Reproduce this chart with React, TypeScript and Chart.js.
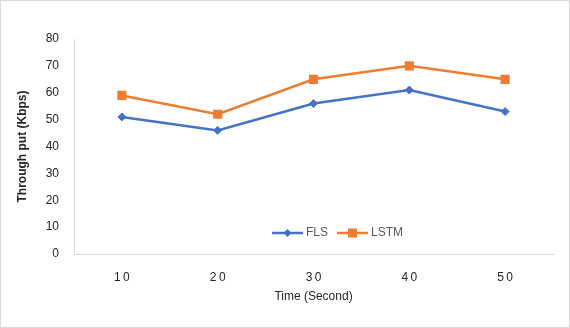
import React, { useEffect, useRef } from "react";
import { Chart, registerables } from "chart.js";

Chart.register(...registerables);

const categories = ["10", "20", "30", "40", "50"];
const flsValues = [51, 46, 56, 61, 53];
const lstmValues = [59, 52, 65, 70, 65];
const yTicks = [0, 10, 20, 30, 40, 50, 60, 70, 80];

const BLUE = "#4472C4";
const ORANGE = "#ED7D31";
const FONT = "'Liberation Sans', Arial, sans-serif";

const insideLegend = {
  id: "insideLegend",
  afterDraw(chart: any) {
    const ctx = chart.ctx;
    const y = 232;
    ctx.save();
    ctx.font = `12px ${FONT}`;
    ctx.textBaseline = "middle";
    const items = [
      { label: "FLS", color: BLUE, x: 271, style: "rectRot" },
      { label: "LSTM", color: ORANGE, x: 336, style: "rect" },
    ];
    for (const it of items) {
      ctx.strokeStyle = it.color;
      ctx.lineWidth = 2.5;
      ctx.beginPath();
      ctx.moveTo(it.x, y);
      ctx.lineTo(it.x + 31, y);
      ctx.stroke();
      ctx.fillStyle = it.color;
      ctx.beginPath();
      if (it.style === "rect") {
        const s = 4.5;
        ctx.rect(it.x + 15.5 - s, y - s, 2 * s, 2 * s);
      } else {
        const s = 4;
        const cx = it.x + 15.5;
        ctx.moveTo(cx, y - s);
        ctx.lineTo(cx + s, y);
        ctx.lineTo(cx, y + s);
        ctx.lineTo(cx - s, y);
        ctx.closePath();
      }
      ctx.fill();
      ctx.fillStyle = "#595959";
      ctx.textAlign = "left";
      ctx.fillText(it.label, it.x + 34, y);
    }
    ctx.restore();
  },
};

export default function App() {
  const canvasRef = useRef<HTMLCanvasElement | null>(null);

  useEffect(() => {
    document.body.style.margin = "0";
    const chart = new Chart(canvasRef.current as HTMLCanvasElement, {
      type: "line",
      data: {
        labels: categories,
        datasets: [
          {
            label: "FLS",
            data: flsValues,
            borderColor: BLUE,
            backgroundColor: BLUE,
            borderWidth: 2.5,
            pointStyle: "rectRot",
            pointRadius: 4,
            pointBorderWidth: 1,
            tension: 0,
          },
          {
            label: "LSTM",
            data: lstmValues,
            borderColor: ORANGE,
            backgroundColor: ORANGE,
            borderWidth: 2.5,
            pointStyle: "rect",
            pointRadius: 6.5,
            pointBorderWidth: 0,
            tension: 0,
          },
        ],
      },
      options: {
        animation: false,
        responsive: false,
        maintainAspectRatio: false,
        layout: { padding: { top: 38, right: 16, left: 0, bottom: 0 } },
        plugins: {
          legend: { display: false },
          tooltip: { enabled: false },
        },
        scales: {
          x: {
            offset: true,
            grid: { display: false, drawTicks: false },
            border: { display: true, color: "#d9d9d9", width: 1 },
            ticks: {
              color: "#262626",
              font: { family: FONT, size: 12 },
              padding: 16,
              callback: (v: any, i: number) => categories[i].split("").join("\u2009"),
            },
            title: {
              display: true,
              text: "Time (Second)",
              color: "#262626",
              font: { family: FONT, size: 12 },
              padding: { top: 6, bottom: 23 },
            },
            afterFit: (s: any) => {
              s.height = 73;
            },
          },
          y: {
            min: 0,
            max: 80,
            afterBuildTicks: (s: any) => {
              s.ticks = yTicks.map((v) => ({ value: v }));
            },
            grid: { display: false, drawTicks: false },
            border: { display: true, color: "#d9d9d9", width: 1 },
            ticks: {
              color: "#262626",
              font: { family: FONT, size: 12 },
              padding: 15,
            },
            title: {
              display: true,
              text: "Through put (Kbps)",
              color: "#262626",
              font: { family: FONT, size: 12, weight: "bold" },
              padding: { top: 14, bottom: 4 },
            },
            afterFit: (s: any) => {
              s.width = 73;
            },
          },
        },
      },
      plugins: [insideLegend],
    });
    return () => chart.destroy();
  }, []);

  return (
    <div
      style={{
        width: 570,
        height: 328,
        boxSizing: "border-box",
        border: "1px solid #d9d9d9",
        background: "#fff",
        position: "relative",
        overflow: "hidden",
      }}
    >
      <canvas
        ref={canvasRef}
        width={568}
        height={326}
        style={{ display: "block", width: 568, height: 326 }}
      />
    </div>
  );
}
